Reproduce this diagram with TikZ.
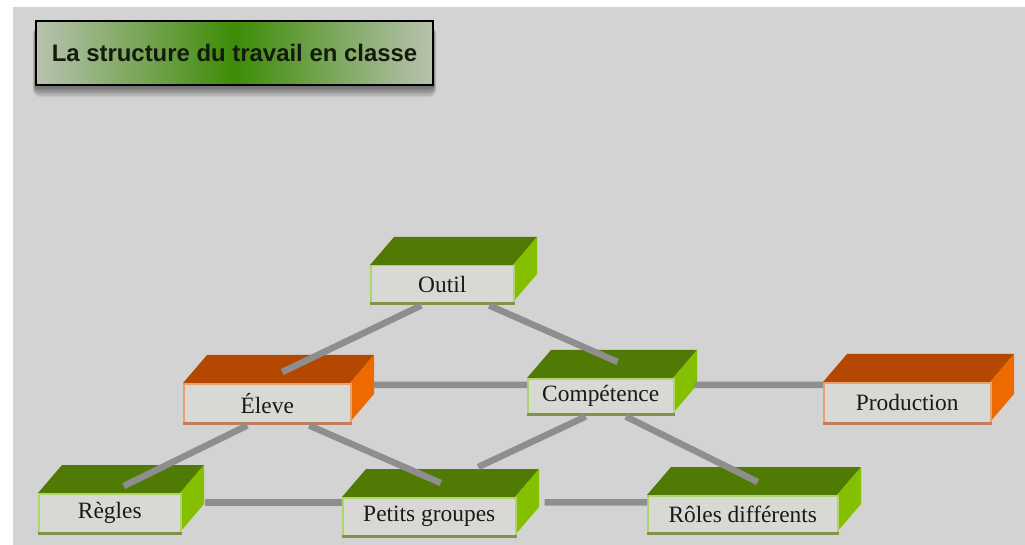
\documentclass[tikz,border=0pt]{standalone}
\usepackage{fontspec}
\setmainfont{Liberation Serif}
\newfontfamily\titlefont{Liberation Sans}
\usetikzlibrary{calc}

\definecolor{pagebg}{HTML}{D3D3D3}
\definecolor{linkgray}{HTML}{8E8E8E}
\definecolor{facegray}{HTML}{D8D8D5}
\definecolor{greentopc}{HTML}{507A04}
\definecolor{greensidec}{HTML}{84C000}
\definecolor{greenrim}{HTML}{AFD46A}
\definecolor{greenedgec}{HTML}{7E9448}
\definecolor{orangetopc}{HTML}{B54800}
\definecolor{orangesidec}{HTML}{EC6A00}
\definecolor{orangerim}{HTML}{E8A070}
\definecolor{orangeedgec}{HTML}{C08060}
\definecolor{titleedge}{HTML}{B8C2B0}
\definecolor{titlegreen}{HTML}{3E8C06}
\definecolor{titleink}{HTML}{141A0E}

\tikzset{
  greentop/.style={fill=greentopc},
  greenside/.style={fill=greensidec},
  greenfront/.style={draw=greenrim},
  greenedge/.style={draw=greenedgec},
  orangetop/.style={fill=orangetopc},
  orangeside/.style={fill=orangesidec},
  orangefront/.style={draw=orangerim},
  orangeedge/.style={draw=orangeedgec},
  frontface/.style={fill=facegray, line width=1.5bp, inner sep=0pt,
    text=black!90, font=\fontsize{23.5}{25}\selectfont},
  link/.style={draw=linkgray, line width=6.5bp},
  titlebox/.style={draw=black, line width=2bp, inner sep=0pt,
    minimum width=397bp, minimum height=64bp,
    left color=titleedge, right color=titleedge, middle color=titlegreen,
    text=titleink, font=\titlefont\bfseries\fontsize{24}{28}\selectfont},
}

% #1 name, #2 x, #3 y (front face top-left), #4 width, #5 height,
% #6 colour scheme, #7 label
\newcommand\cubebox[7]{%
  \fill[#6top] (#2,#3) -- ++(24,-28) -- ++(#4,0) -- ++(-24,28) -- cycle;
  \fill[#6side] (#2+#4,#3) -- ++(24,-28) -- ++(0,#5) -- ++(-24,28) -- cycle;
  \node[frontface,#6front,minimum width=#4bp,minimum height=#5bp,
        anchor=north west] (#1) at (#2,#3) {#7};
  \draw[#6edge,line width=3bp] (#1.south west) -- (#1.south east);
}

\begin{document}
\begin{tikzpicture}[x=1bp,y=-1bp]
  \useasboundingbox (0,0) rectangle (1025,545);
  \fill[white] (0,0) rectangle (1025,545);
  \fill[pagebg] (13,7) rectangle (1025,545);

  % heading with its soft shadow
  \foreach \s in {1,...,8}
    \fill[black,opacity=0.07,rounded corners=\s bp]
      (36-\s*0.4,27) rectangle (433+\s*0.4,86+\s*1.4);
  \node[titlebox] (title) at (234.5,53) {La structure du travail en classe};

  % blocks
  \cubebox{outil}{370}{265}{143}{37}{green}{Outil}
  \cubebox{eleve}{183}{383}{167}{39}{orange}{Éleve}
  \cubebox{comp}{527}{378}{146}{35}{green}{Compétence}
  \cubebox{prod}{823}{382}{167}{40}{orange}{Production}
  \cubebox{regles}{38}{493}{142}{39}{green}{Règles}
  \cubebox{petits}{342}{497}{173}{38}{green}{Petits groupes}
  \cubebox{roles}{647}{495}{190}{37}{green}{Rôles différents}

  % links between blocks
  \draw[link] ($(outil.south)+(-21,2)$) -- ($(eleve.north)+(15,-11)$);
  \draw[link] ($(outil.south)+(47,2)$) -- ($(comp.north)+(17,-16)$);
  \draw[link] ($(eleve.east)+(22,-18.5)$) -- ($(comp.west)+(0,-11.5)$);
  \draw[link] ($(comp.east)+(20,-11.5)$) -- ($(prod.west)+(0,-18)$);
  \draw[link] ($(eleve.south)+(-20,2)$) -- ($(regles.north)+(14,-7)$);
  \draw[link] ($(eleve.south)+(42,2)$) -- ($(petits.north)+(11.5,-14)$);
  \draw[link] ($(comp.south)+(-15,2)$) -- ($(petits.north)+(49,-30)$);
  \draw[link] ($(comp.south)+(25,2)$) -- ($(roles.north)+(15,-13)$);
  \draw[link] ($(regles.east)+(23,-11)$) -- ($(petits.west)+(0,-14.5)$);
  \draw[link] ($(petits.east)+(28,-14.5)$) -- ($(roles.west)+(0,-12)$);
\end{tikzpicture}
\end{document}
